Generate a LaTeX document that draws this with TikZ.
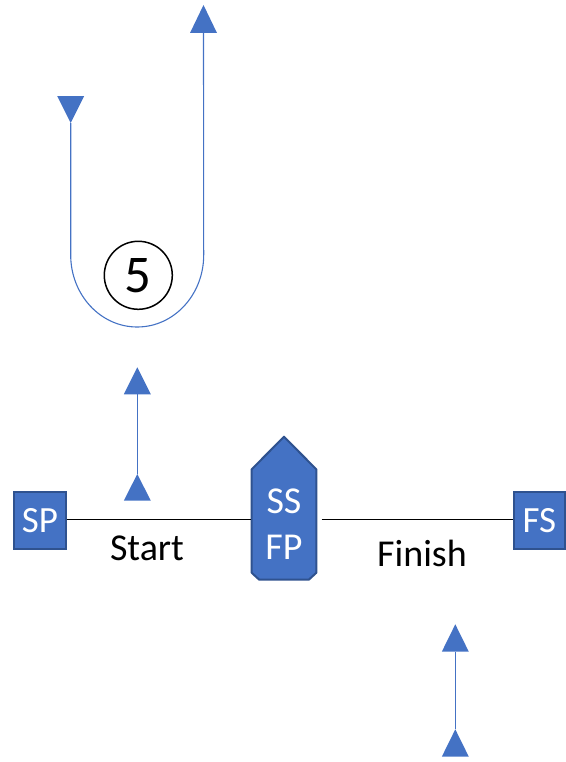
\documentclass[tikz,border=0pt]{standalone}
\usepackage{fontspec}
\setmainfont{Carlito}
\definecolor{obl}{HTML}{4472C4}
\definecolor{obd}{HTML}{2F528F}
\tikzset{
  x=1bp, y=-1bp,
  boxnode/.style={draw=obd, fill=obl, line width=2bp, minimum width=51bp, minimum height=57bp, inner sep=0pt, text=white, font=\fontsize{37bp}{40bp}\selectfont},
  bluetri/.style={fill=obl, draw=none},
  blueline/.style={draw=obl, line width=1.1bp},
  blackline/.style={draw=black, line width=1.3bp},
  lbl/.style={anchor=base, inner sep=0pt, font=\fontsize{38bp}{42bp}\selectfont},
  gatelbl/.style={anchor=base, inner sep=0pt, text=white, font=\fontsize{38bp}{42bp}\selectfont},
}
\newcommand{\uptri}[4]{% name, x, tip y, base y
  \coordinate (#1tip) at (#2,#3);
  \coordinate (#1base) at (#2,#4);
  \fill[bluetri] (#2-13.5,#4) -- (#2,#3) -- (#2+13.5,#4) -- cycle;}
\begin{document}
\begin{tikzpicture}
\useasboundingbox (0,0) rectangle (566,762);
% top U turn
\uptri{ua}{203.5}{5}{33}
\uptri{ub}{70.7}{123}{96}
\coordinate (ul) at (70.7,255);
\coordinate (ur) at (203.7,255);
\draw[blueline] (ubtip) -- (ul) arc[start angle=180, end angle=360, x radius=66.5bp, y radius=72bp] -- (uabase);
\node[circle, draw=black, line width=1.5bp, minimum size=68bp, inner sep=0pt, font=\fontsize{53bp}{56bp}\selectfont] (five) at (138.3,275.3) {5};
% start arrows
\uptri{sa}{137.3}{367.3}{394.3}
\uptri{sb}{137.3}{474}{500.7}
\draw[blueline] (sbtip) -- (sabase);
% finish arrows
\uptri{fa}{455.3}{624.3}{651.7}
\uptri{fb}{455.3}{729.3}{756.7}
\draw[blueline] (fbtip) -- (fabase);
% boxes
\node[boxnode] (sp) at (40,520.5) {SP};
\node[boxnode] (fs) at (539.3,520.7) {FS};
% gate
\coordinate (gate) at (284,508);
\filldraw[draw=obd, fill=obl, line width=2bp, line join=round]
  (251.7,469.3) -- (284,436.7) -- (316.3,469.3) -- (316.3,572.8) -- (308.8,579.7) -- (259.2,579.7) -- (251.7,572.8) -- cycle;
\coordinate (gatew) at (250.7,519.5);
\coordinate (gatee) at (321.7,519.5);
\node[gatelbl] (ss) at (284,513) {SS};
\node[gatelbl] (fp) at (284,559) {FP};
% lines
\draw[blackline] (sp.east |- gatew) -- (gatew);
\draw[blackline] (gatee) -- (fs.west |- gatee);
\node[lbl] (start) at (147,560) {Start};
\node[lbl] (finish) at (422,566) {Finish};
\end{tikzpicture}
\end{document}
